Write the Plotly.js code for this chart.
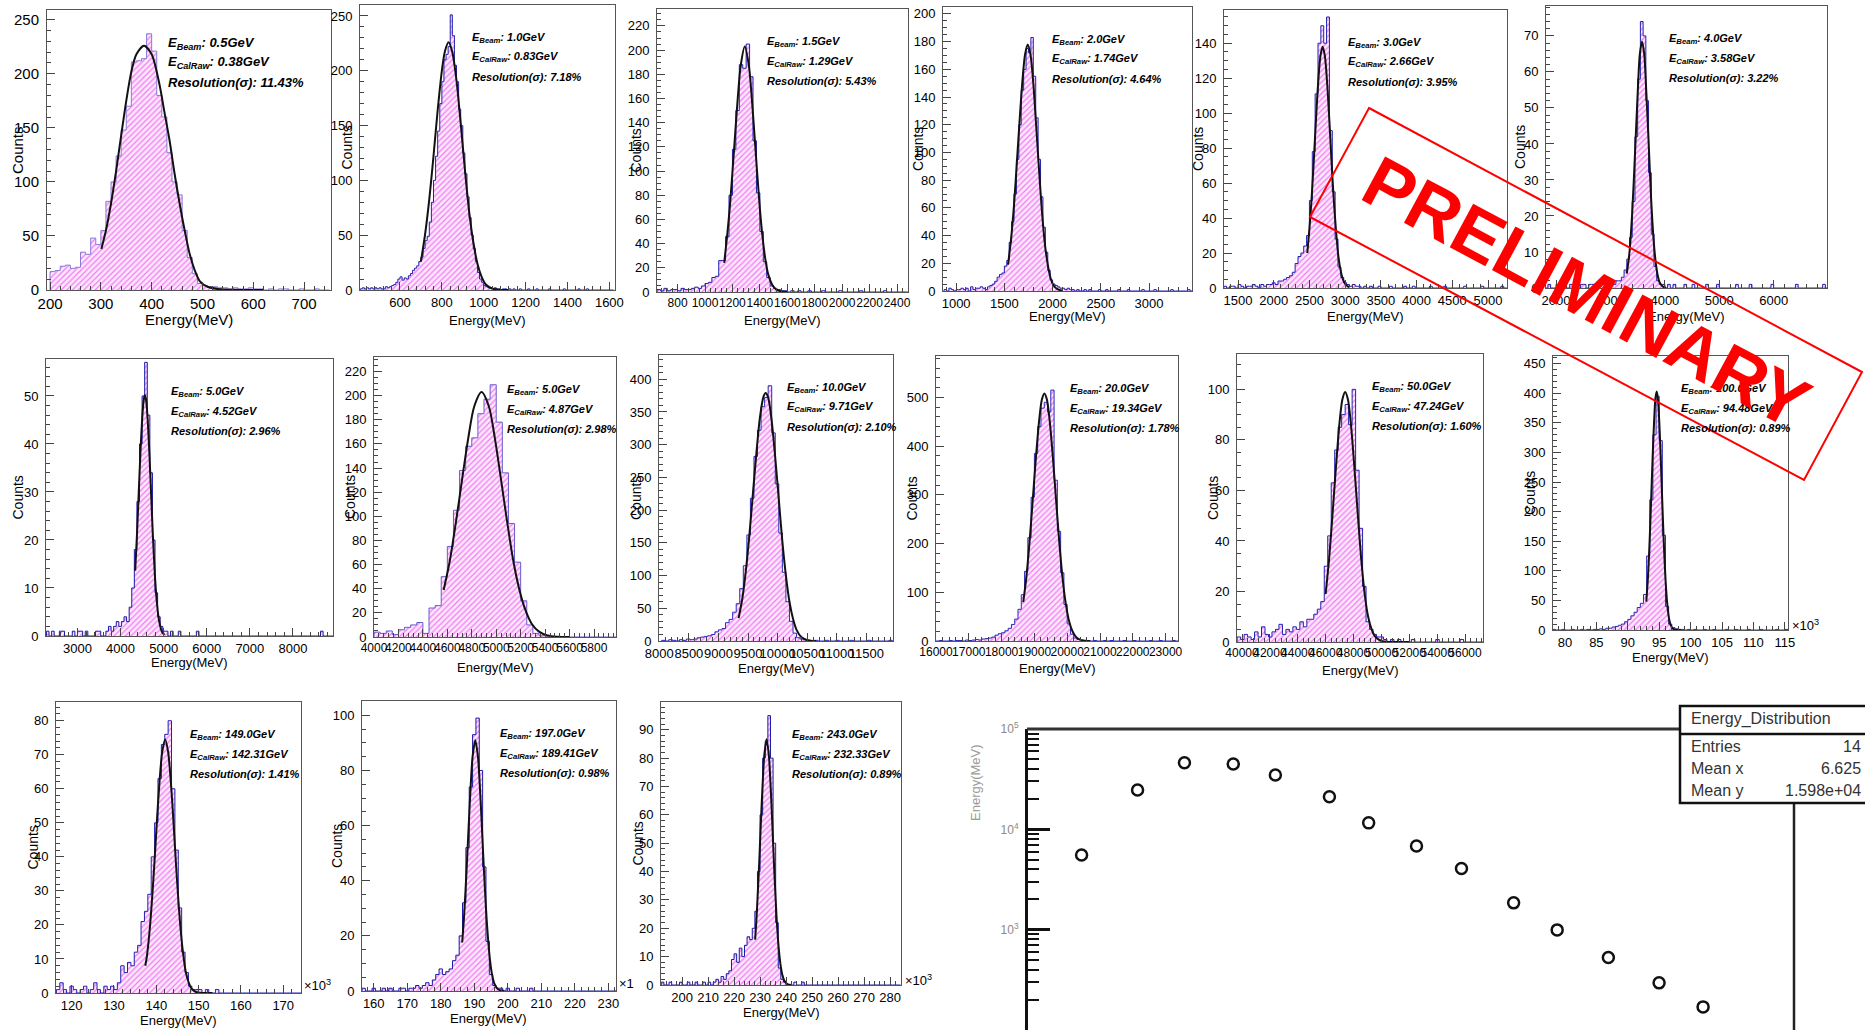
<!DOCTYPE html>
<html><head><meta charset="utf-8">
<script src="https://cdn.plot.ly/plotly-3.0.1.min.js"></script>
<style>html,body{margin:0;padding:0;background:#fff}#chart{width:1865px;height:1030px}</style>
</head><body><div id="chart"></div>
<script>
// ===================== DATA =====================
const beamEnergy   = ['0.5','1.0','1.5','2.0','3.0','4.0','5.0','5.0','10.0','20.0','50.0','100.0','149.0','197.0','243.0'];
const calRawEnergy = ['0.38','0.83','1.29','1.74','2.66','3.58','4.52','4.87','9.71','19.34','47.24','94.48','142.31','189.41','232.33'];
const resolution   = ['11.43','7.18','5.43','4.64','3.95','3.22','2.96','2.98','2.10','1.78','1.60','0.89','1.41','0.98','0.89'];

// histogram binning (MeV; panels 12-15 in units of 10^3 MeV)
const binStart = [200, 410, 650, 875, 1300, 1800, 2280, 4000, 8040, 16000, 39650, 78.0, 116.4, 156.5, 192];
const binWidth = [10, 10, 25, 25, 40, 50, 60, 50, 60, 100, 250, 0.5, 0.8, 1.0, 1.0];

const counts1 = [17,18,22,23,20,21,35,33,48,42,55,82,100,124,148,170,211,212,214,237,221,180,160,127,100,88,55,30,15,6,4,3,3,2,2,1,2,1,1,2,1,1,0,1,0,1,1,0,0,1,0,0,1,0,0];
const counts2 = [1,2,1,2,1,2,1,2,1,2,1,1,3,2,3,4,5,7,10,12,9,11,10,13,15,18,20,22,26,30,38,45,49,62,80,100,122,145,170,190,210,215,222,251,232,205,190,165,150,125,106,85,66,50,38,26,16,10,7,4,3,2,2,1,2,1,1,0,1,1,0,1,0,1,0,0,1,0,0,0,1,0,0,0,1,0,0,0,0,0,1,0,0,0,0,0,0,1,0,0,0,0,0,0,1,0,0,0,1,0,0,0,0,0,0,0,0,0,0,0,0];
const counts3 = [2,1,3,1,2,2,1,3,2,2,3,4,3,5,7,8,12,13,26,26,46,80,118,150,188,185,205,178,125,82,50,25,12,5,3,2,1,1,0,1,0,1,0,0,1,0,0,0,1,0,0,0,0,1,0,0,0,0,0,1,0,0,0,0,0,0,1,0,0,0,0,0,0,0];
const counts4 = [1,0,2,1,0,1,1,2,1,2,0,3,1,2,2,3,2,1,3,4,5,7,10,12,13,18,22,35,50,70,95,120,145,160,175,172,183,155,125,95,68,46,28,15,8,5,4,3,2,2,1,2,1,1,0,1,0,0,1,0,1,0,0,0,1,0,0,1,0,0,0,0,1,0,0,0,1,0,0,0,0,0,1,0,0,0,0,1,0,0,0,0,0,0,1,0,0,0,0,0,0,1,0];
const counts5 = [1,0,1,1,0,2,1,0,1,1,2,1,0,2,1,2,2,3,2,4,4,5,6,7,9,14,18,20,24,30,50,78,111,140,150,140,155,90,55,28,12,6,3,2,1,2,1,1,0,1,0,1,0,0,1,0,0,0,1,0,0,0,0,1,0,0,1,0,0,0,0,0,1,0,0,0,0,1,0,0,0,0,0,0,1,0,0,0,0,0,1,0,0,0,0,0,0,1,0,0];
const counts6 = [0,1,0,0,1,0,1,0,0,1,0,1,0,1,1,0,1,1,0,1,2,1,1,0,2,1,2,2,3,5,8,14,24,42,58,74,70,52,32,15,6,2,1,1,0,1,0,1,0,0,0,1,0,0,1,0,0,0,0,1,0,0,0,1,0,0,0,0,0,0,1,0,0,0,0,1,0,0,0,0,0,0,0,1,0,0,0,0,0,0,0,0,1,0,0,0,0,0,0,0,0,0,1,0,0];
const counts7 = [1,0,1,0,0,1,1,0,0,0,1,0,1,1,0,1,0,0,0,1,1,0,0,1,2,1,2,3,2,3,4,3,6,10,18,28,40,50,57,46,34,20,9,4,2,1,1,0,1,0,0,1,0,0,0,0,0,0,1,0,0,0,0,0,0,0,0,0,0,0,0,0,0,0,0,0,0,0,0,0,0,0,0,0,0,0,0,0,0,0,0,0,0,0,0,0,0,0,0,0,0,0,0,0,0,0,1,0,0,0,0];
const counts8 = [4,3,5,2,6,8,10,12,3,24,26,50,75,105,138,158,165,185,197,209,178,136,94,62,30,10,3,1,1,0,0,0,0,0,0,0,0,0,0,0];
const counts9 = [1,0,2,1,0,2,1,3,2,3,5,6,7,8,10,14,17,19,28,33,44,57,80,115,162,218,282,322,358,372,390,318,240,165,105,60,30,12,5,3,2,1,0,1,0,0,1,0,0,1,0,0,0,1,0,0,0,0,1,0,0,0,0,0,1];
const counts10 = [0,1,0,0,1,0,1,1,0,2,1,2,3,2,4,5,6,8,12,15,17,21,26,34,45,65,95,143,212,295,385,440,478,490,470,515,330,225,140,75,35,14,6,3,2,1,1,0,1,0,0,1,0,1,0,0,0,1,0,0,1,0,0,0,0,1,0,0,1,0,0,0,1,0];
const counts11 = [2,1,3,2,1,4,2,6,3,2,4,5,7,3,5,4,6,5,8,6,9,9,11,13,16,30,42,63,76,85,90,94,86,100,68,45,22,8,5,3,2,2,1,0,1,0,1,0,0,0,1,0,0,0,0,0,0,1,0,0,0,0,0,0,1,0,0,0,0,0,0];
const counts12 = [1,0,0,1,0,0,1,0,0,1,0,1,0,1,1,2,1,3,3,5,6,8,10,14,18,24,30,38,45,60,125,220,330,395,320,160,40,10,4,2,1,1,0,1,0,1,0,0,1,0,0,1,0,0,0,1,0,0,1,0,0,0,1,0,0,0,1,0,0,0,0,1,0,0,1];
const counts13 = [1,3,1,0,2,1,0,1,2,0,1,3,1,0,2,1,2,1,3,8,6,9,8,12,14,21,24,29,40,50,63,73,76,80,60,42,25,12,6,2,1,1,1,0,1,0,0,1,0,0,0,0,0,0,0,0,0,0,0,0,0,0,0,0,0,0,0,0,0,0,0,0,0];
const counts14 = [1,0,0,1,0,0,1,0,1,0,0,1,1,0,1,1,2,1,2,3,2,4,6,8,6,7,8,11,13,20,32,52,74,93,99,80,45,18,6,2,1,1,0,1,0,0,1,0,0,0,1,0,0,0,0,0,0,0,0,0,0,0,0,0,0,0,0,0,0,0,0,0,0,0,0,0];
const counts15 = [1,0,0,1,0,0,0,1,0,0,1,0,0,1,0,0,1,0,1,0,1,2,1,3,2,4,5,9,11,8,13,10,14,17,16,20,26,40,60,80,86,95,80,50,22,6,2,1,0,0,0,1,0,0,1,0,0,0,0,0,0,0,0,0,0,0,0,0,0,0,0,0,0,0,0,0,0,0,0,0,0,0,0,0,0,0,0,0,0,0,0,0];

// Gaussian fit curves (energy, counts)
const fitE1 = [301,310,320,330,340,350,360,370,385,400,415,425,435,445,455,465,475,485,495,510,530,560,620];
const fitN1 = [38,55,80,110,143,175,202,218,226,218,191,165,139,108,80,55,33,18,8,3,1,0.2,0];
const fitE2 = [700,720,740,760,780,800,815,832,850,870,890,910,930,950,970,990,1010,1040,1080,1120];
const fitN2 = [26,51,83,122,164,200,218,226,217,191,152,110,72,44,24,12,5,1.4,0.1,0];
const fitE3 = [1140,1160,1180,1200,1220,1240,1260,1290,1320,1340,1360,1380,1400,1420,1440,1460,1490,1520,1560,1600];
const fitN3 = [24,45,69,99,131,162,187,203,187,162,131,99,69,45,27,15,6,2,0.4,0];
const fitE4 = [1538,1570,1600,1630,1660,1690,1715,1742,1770,1800,1830,1860,1890,1920,1950,1980,2010,2050,2100];
const fitN4 = [19,38,62,93,125,154,171,178,171,150,119,87,57,34,19,9,4,1.3,0.2];
const fitE5 = [2470,2500,2530,2560,2590,2620,2655,2685,2715,2750,2780,2810,2840,2870,2900,2930,2970,3010,3060];
const fitN5 = [20,34,51,72,95,116,133,138,133,116,95,72,51,34,20,11.5,4.8,1.8,0.4];
const fitE6 = [3300,3350,3400,3450,3500,3540,3580,3620,3660,3700,3750,3800,3850,3900,3960,4020];
const fitN6 = [4,10,21,37,54,65,68.4,65,54,41,24,12,5,1.7,0.4,0];
const fitE7 = [4340,4380,4420,4460,4500,4535,4565,4595,4630,4670,4710,4750,4800,4850,4900,4960,5020];
const fitN7 = [13.6,21,29.4,37.9,45,49,50.2,49,45,37.9,29.4,21,12.2,6.3,2.9,0.9,0.25];
const fitE8 = [4570,4620,4670,4720,4770,4820,4880,4940,4990,5040,5090,5140,5190,5240,5290,5350,5420,5500,5600];
const fitN8 = [39,63,95,130,164,191,203,191,164,130,95,63,39,22,11,4.5,1.3,0.26,0];
const fitE9 = [9340,9400,9460,9520,9580,9640,9700,9760,9797,9840,9900,9960,10020,10080,10140,10200,10260,10320,10400,10480,10560,10650];
const fitN9 = [35,63,105,159,223,286,341,373,379,372,336,280,216,152,100,60,34,17,6,2,0.5,0];
const fitE10 = [18660,18750,18850,18950,19050,19150,19230,19305,19380,19460,19560,19660,19760,19860,19960,20060,20160,20260,20400,20550,20700];
const fitN10 = [80,128,202,290,380,456,496,508,496,456,380,290,202,128,75,40,20,9,2.4,0.5,0];
const fitE11 = [46000,46250,46500,46750,47000,47200,47400,47600,47800,48050,48300,48550,48800,49050,49300,49600,50000,50500,52000];
const fitN11 = [19,33,51,70,87,96,99,96,87,70,51,33,19,10,5,1.8,0.4,0.03,0];
const fitE12 = [92.95,93.2,93.45,93.7,93.95,94.2,94.4,94.6,94.8,95.0,95.25,95.5,95.75,96.0,96.25,96.5,96.8,97.2,97.7,98.5];
const fitN12 = [48,87,143,214,290,355,391,403,391,355,290,214,143,87,48,24,9,2,0.2,0];
const fitE13 = [137.4,137.8,138.4,139.0,139.6,140.2,140.8,141.4,142.1,142.8,143.4,144.0,144.6,145.2,145.8,146.4,147.0,147.6,148.4,149.4,150.8,153.3];
const fitN13 = [8,11,18,27.6,39,51.6,62.7,70.8,74.5,70.8,62.7,51.6,39,27.6,18,11,6,3.3,1.2,0.3,0.03,0];
const fitE14 = [186.4,186.9,187.4,187.9,188.4,188.9,189.5,190.3,191.1,191.7,192.2,192.7,193.2,193.7,194.2,194.7,195.2,196.0,197.2,199];
const fitN14 = [17.6,26,36.6,48.6,61.6,73.6,85,91,85,73.6,61.6,48.6,36.6,26,17.6,11.2,6.7,2.7,0.55,0];
const fitE15 = [228.1,228.6,229.1,229.6,230.1,230.6,231.1,231.6,232.5,233.4,233.9,234.4,234.9,235.4,235.9,236.4,236.9,237.4,237.9,238.5,239.3,240.5,242];
const fitN15 = [16,23,32,41.6,52.6,63.4,73,80.8,86.7,80.8,73,63.4,52.6,41.6,32,23,16,10.8,6.9,3.8,1.6,0.3,0];

// summary panel (Energy_Distribution)
const sumX = [1.06,2.23,3.21,4.23,5.11,6.24,7.06,8.06,9.0,10.09,11.0,12.07,13.13,14.05];
const sumY = [5550,24700,46200,44800,34800,21100,11600,6810,4080,1850,995,528,295,170];
const statsLabels = ['Entries','Mean x','Mean y'];
const statsValues = ['14','6.625','1.598e+04'];

// ===================== LAYOUT CONFIG =====================
const W = 1865, H = 1030;
const px = x => x / W, py = y => 1 - y / H;
// plot frames in pixels [x0, y0, x1, y1]
const boxes = [[47,10,331,290],[360,5,615,290],[657,9,908,292],[943,7,1192,291],[1224,10,1507,288],[1546,6,1827,288],
  [46,359,333,636],[374,357,616,637],[659,355,893,641],[936,356,1178,641],[1237,354,1483,642],[1553,356,1788,630],
  [56,702,301,993],[362,701,616,991],[661,702,901,985]];
const xRanges = [[194,753],[409,1627],[650,2480],[864,3445],[1304,5266],[1815,6980],[2270,8930],[4000,5980],[7995,11950],
  [16000,23378],[39640,57290],[78.1,115.5],[116.3,174.2],[156.5,232.3],[191.9,284.2]];
const yRanges = [[0,259],[0,260],[0,234],[0,205],[0,159],[0,78.3],[0,57.7],[0,232],[0,437],[0,585],[0,114],[0,463],[0,85.5],[0,105.2],[0,99.8]];
const xTicks = [[100,20],[200,40],[200,40],[500,100],[500,100],[1000,200],[1000,200],[200,40],[500,100],[1000,200],[2000,400],[5,1],[10,2],[10,2],[10,2]];
const yTicks = [[50,10],[50,10],[20,5],[20,5],[20,5],[10,2],[10,2],[20,5],[50,10],[100,20],[20,5],[50,10],[10,2],[20,5],[10,2]];
const xTickFont = [15,13,12,13,13,13,13,12,13,12,12,13,13,13,13];
const xTitleY = [319,320,320,317,317,317,662,667,668,668,670,657,1020,1018,1012];
const countsX = [18,346,636,918,1198,1520,17,350,636,912,1213,1530,32,337,637];
const annFrac = [0.42,0.43,0.43,0.43,0.43,0.43,0.43,0.54,0.54,0.545,0.54,0.536,0.54,0.535,0.537];
const lineCols = ['#8878d8','#2020b0','#2020b0','#2020b0','#2020b0','#2020b0','#1818a8','#6a5ad0','#2a2ab8','#2a2ab8','#2020b0','#2a2ab8','#2020b0','#1818a8','#1818a8'];

const allCounts = [counts1,counts2,counts3,counts4,counts5,counts6,counts7,counts8,counts9,counts10,counts11,counts12,counts13,counts14,counts15];
const allFitE = [fitE1,fitE2,fitE3,fitE4,fitE5,fitE6,fitE7,fitE8,fitE9,fitE10,fitE11,fitE12,fitE13,fitE14,fitE15];
const allFitN = [fitN1,fitN2,fitN3,fitN4,fitN5,fitN6,fitN7,fitN8,fitN9,fitN10,fitN11,fitN12,fitN13,fitN14,fitN15];

const FF = 'Liberation Sans, Arial, Helvetica, sans-serif';
const traces = [];
const layout = {width: W, height: H, margin: {l:0,r:0,t:0,b:0,pad:0}, paper_bgcolor:'#ffffff', plot_bgcolor:'#ffffff',
  showlegend:false, shapes:[], annotations:[], font:{family:FF}};

for (let k = 0; k < 15; k++) {
  const n = k + 1;
  const xn = n === 1 ? 'x' : 'x' + n, yn = n === 1 ? 'y' : 'y' + n;
  const xk = n === 1 ? 'xaxis' : 'xaxis' + n, yk = n === 1 ? 'yaxis' : 'yaxis' + n;
  const b = boxes[k];
  const big = k === 0;
  // step histogram
  const c = allCounts[k], s = binStart[k], w = binWidth[k];
  const hx = [s], hy = [0];
  c.forEach((v, i) => { hx.push(s + i * w); hy.push(v); });
  hx.push(s + c.length * w); hy.push(0);
  traces.push({type:'scatter', mode:'lines', x:hx, y:hy, xaxis:xn, yaxis:yn,
    line:{shape:'hv', color:lineCols[k], width:1}, fill:'tozeroy', fillcolor:'rgba(248,196,248,0.7)',
    fillpattern:{shape:'/', bgcolor:'#fde8fd', fgcolor:'#f27af2', size:4, solidity:0.3}, hoverinfo:'skip'});
  // fit curve
  traces.push({type:'scatter', mode:'lines', x:allFitE[k], y:allFitN[k], xaxis:xn, yaxis:yn,
    line:{shape:'spline', smoothing:0.8, color:'#111', width:2}, hoverinfo:'skip'});

  const axCommon = {showline:true, mirror:true, linecolor:'#555', linewidth:1, ticks:'inside', ticklen:8, tickwidth:1,
    tickcolor:'#444', showgrid:false, zeroline:false, fixedrange:true, tickangle:0, exponentformat:'none',
    separatethousands:false, tickformat:'d', tick0:0};
  layout[xk] = Object.assign({}, axCommon, {domain:[px(b[0]), px(b[2])], range:xRanges[k], anchor:yn,
    tickfont:{family:FF, size:xTickFont[k], color:'#000'},
    dtick:xTicks[k][0], minor:{ticks:'inside', ticklen:4, dtick:xTicks[k][1], tickcolor:'#444', showgrid:false}});
  layout[yk] = Object.assign({}, axCommon, {domain:[py(b[3]), py(b[1])], range:yRanges[k], anchor:xn,
    tickfont:{family:FF, size: big ? 15 : 13, color:'#000'},
    dtick:yTicks[k][0], ticklabelstandoff:4, minor:{ticks:'inside', ticklen:4, dtick:yTicks[k][1], tickcolor:'#444', showgrid:false}});

  // titles
  layout.annotations.push({xref:'paper', yref:'paper', x:px((b[0]+b[2])/2), y:py(xTitleY[k]), text:'Energy(MeV)',
    showarrow:false, xanchor:'center', yanchor:'middle', font:{family:FF, size: big ? 15 : 13, color:'#000'}});
  layout.annotations.push({xref:'paper', yref:'paper', x:px(countsX[k]), y:py((b[1]+b[3])/2), text:'Counts', textangle:-90,
    showarrow:false, xanchor:'center', yanchor:'middle', font:{family:FF, size: big ? 15 : 14, color:'#000'}});
  // fit info text
  const tx = px(b[0] + annFrac[k] * (b[2] - b[0]));
  const lines = ['E<sub>Beam</sub>: ' + beamEnergy[k] + 'GeV', 'E<sub>CalRaw</sub>: ' + calRawEnergy[k] + 'GeV',
    'Resolution(σ): ' + resolution[k] + '%'];
  const offs = [33, 52.5, 72];
  lines.forEach((t, i) => layout.annotations.push({xref:'paper', yref:'paper', x:tx, y:py(b[1] + offs[i]),
    text:'<b><i>' + t + '</i></b>', showarrow:false, xanchor:'left', yanchor:'middle',
    font:{family:FF, size: big ? 13 : 11, color:'#000'}}));
}

// x10^3 labels
[[1790,625,'×10<sup>3</sup>'],[302,985,'×10<sup>3</sup>'],[617,983,'×1'],[903,980,'×10<sup>3</sup>']].forEach(a =>
  layout.annotations.push({xref:'paper', yref:'paper', x:px(a[0]), y:py(a[1]), text:a[2], showarrow:false,
    xanchor:'left', yanchor:'middle', font:{family:FF, size:13, color:'#000'}}));

// ===================== SUMMARY PANEL =====================
traces.push({type:'scatter', mode:'markers', x:sumX, y:sumY, xaxis:'x16', yaxis:'y16', cliponaxis:false,
  marker:{symbol:'circle-open', size:11, color:'#111', line:{width:2.5, color:'#111'}}, hoverinfo:'skip'});
const minorVals = [];
[100, 1000, 10000].forEach(d => { for (let m = 2; m <= 9; m++) minorVals.push(m * d); });
layout.xaxis16 = {domain:[px(1028), px(1794)], range:[-0.06, 15.95], anchor:'y16', showline:false, showticklabels:false,
  ticks:'', showgrid:false, zeroline:false, fixedrange:true};
layout.yaxis16 = {domain:[0, py(729)], type:'log', range:[2, 5], anchor:'x16', showline:true, linecolor:'#111', linewidth:3,
  ticks:'inside', ticklen:22, tickwidth:2.5, tickcolor:'#111', showgrid:false, zeroline:false, fixedrange:true,
  tickvals:[100,1000,10000,100000], ticktext:['10<sup>2</sup>','10<sup>3</sup>','10<sup>4</sup>','10<sup>5</sup>'],
  ticklabelstandoff:4, tickfont:{family:FF, size:12, color:'#8a8a8a'},
  minor:{ticks:'inside', ticklen:11, tickwidth:2, tickcolor:'#111', tickvals:minorVals, showgrid:false}};
layout.annotations.push({xref:'paper', yref:'paper', x:px(975), y:py(783), text:'Energy(MeV)', textangle:-90,
  showarrow:false, xanchor:'center', yanchor:'middle', font:{family:FF, size:13, color:'#9a9a9a'}});
layout.shapes.push({type:'line', xref:'paper', yref:'paper', x0:px(1027), x1:px(1700), y0:py(729), y1:py(729), line:{color:'#333', width:3}, layer:'above'});
layout.shapes.push({type:'line', xref:'paper', yref:'paper', x0:px(1794), x1:px(1794), y0:py(800), y1:py(1032), line:{color:'#222', width:2.5}, layer:'above'});
layout.shapes.push({type:'rect', xref:'paper', yref:'paper', x0:px(1680), x1:px(1875), y0:py(803), y1:py(706), line:{color:'#111', width:2.5}, fillcolor:'#ffffff', layer:'above'});
layout.shapes.push({type:'line', xref:'paper', yref:'paper', x0:px(1680), x1:px(1875), y0:py(734), y1:py(734), line:{color:'#111', width:2.5}, layer:'above'});
layout.annotations.push({xref:'paper', yref:'paper', x:px(1689), y:py(719), text:'Energy_Distribution', showarrow:false,
  xanchor:'left', yanchor:'middle', font:{family:FF, size:16, color:'#333'}});
statsLabels.forEach((l, i) => {
  const yy = py(746 + i * 22);
  layout.annotations.push({xref:'paper', yref:'paper', x:px(1689), y:yy, text:l, showarrow:false, xanchor:'left', yanchor:'middle', font:{family:FF, size:16, color:'#333'}});
  layout.annotations.push({xref:'paper', yref:'paper', x:px(1863), y:yy, text:statsValues[i], showarrow:false, xanchor:'right', yanchor:'middle', font:{family:FF, size:16, color:'#333'}});
});

// ===================== PRELIMINARY STAMP =====================
const stampCorners = [[1369,108],[1862,372],[1804,480],[1310,217]];
layout.shapes.push({type:'path', xref:'paper', yref:'paper', layer:'above', line:{color:'#ff0000', width:2},
  path:'M ' + stampCorners.map(p => px(p[0]) + ',' + py(p[1])).join(' L ') + ' Z'});
layout.annotations.push({xref:'paper', yref:'paper', x:px(1586), y:py(292), text:'<b>PRELIMINARY</b>', textangle:28.2,
  showarrow:false, xanchor:'center', yanchor:'middle', font:{family:FF, size:72, color:'#ff0000'}});

Plotly.newPlot('chart', traces, layout, {staticPlot:true, displayModeBar:false});
</script>
</body></html>
